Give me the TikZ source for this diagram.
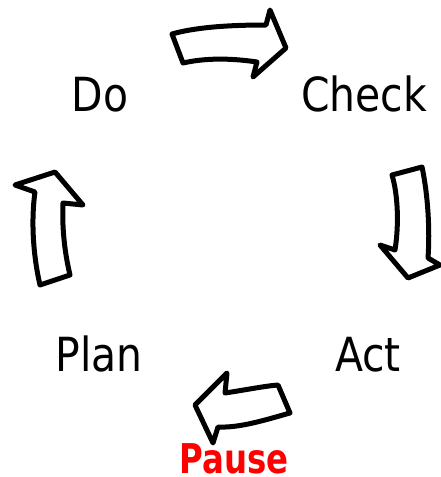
\documentclass[tikz,border=0pt]{standalone}
\usepackage{fontspec}
\setmainfont{DejaVu Sans}[FakeStretch=0.87]
\newfontfamily\pausefont{DejaVu Sans}[FakeStretch=0.79]
\begin{document}
\begin{tikzpicture}[x=1pt,y=-1pt,
  lbl/.style={anchor=base,inner sep=0pt,font=\fontsize{47}{56}\selectfont},
  arr/.style={draw=black,fill=white,line width=5pt,line join=round}]
\useasboundingbox (0,0) rectangle (441,477);
% labels
\node[lbl] (do) at (100,111.5) {Do};
\node[lbl] (check) at (364,111.5) {Check};
\node[lbl] (plan) at (99,371.5) {Plan};
\node[lbl] (act) at (368,371.5) {Act};
\node[lbl,font=\pausefont\fontsize{41}{49}\selectfont\bfseries,text=red] (pause) at (234,473) {Pause};
% top arrow (Do -> Check)
\draw[arr] (172,34) .. controls (200,26) and (240,25) .. (266,25)
  -- (270,10) -- (286,48) -- (253,77) -- (257,62)
  .. controls (230,58) and (205,58) .. (183,63) -- cycle;
% right arrow (Check -> Act)
\draw[arr] (392,175) -- (422,167)
  .. controls (428,195) and (430,230) .. (428,258)
  -- (440,265) -- (408,278) -- (380,245) -- (395,250)
  .. controls (399,225) and (398,195) .. (392,175) -- cycle;
% bottom arrow (Act -> Plan)
\draw[arr] (278,385) -- (290,413)
  .. controls (265,420) and (240,428) .. (218,427)
  -- (213,443) -- (195,405) -- (227,373) -- (225,393)
  .. controls (245,390) and (265,386) .. (278,385) -- cycle;
% left arrow (Plan -> Do)
\draw[arr] (40,285) -- (70,275)
  .. controls (64,250) and (62,225) .. (63,203)
  -- (83,205) -- (55,172) -- (15,185) -- (35,192)
  .. controls (31,220) and (33,255) .. (40,285) -- cycle;
\end{tikzpicture}
\end{document}
